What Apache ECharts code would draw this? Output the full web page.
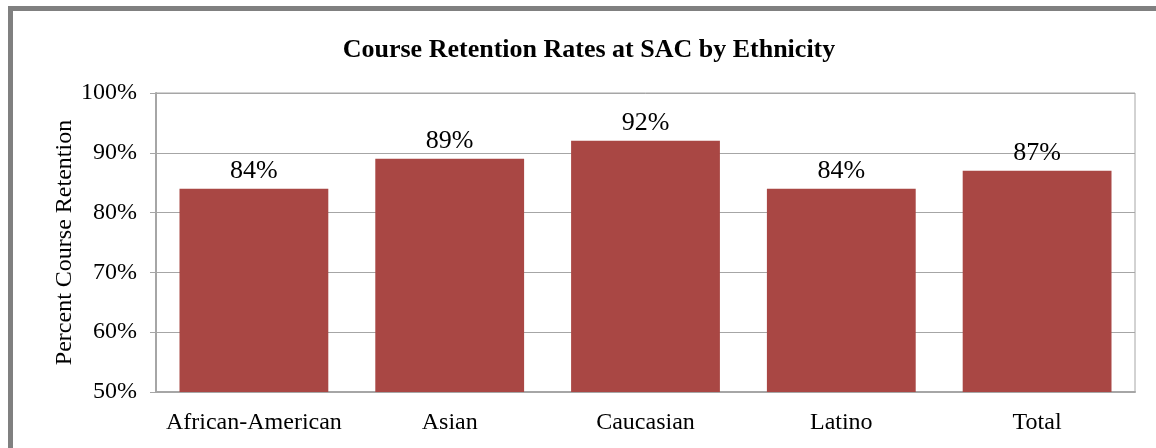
<!DOCTYPE html>
<html>
<head>
<meta charset="utf-8">
<style>
  html, body { margin: 0; padding: 0; background: #fff; }
  #frame { position: absolute; left: 8px; top: 6px; width: 1148px; height: 442px;
           border-left: 5px solid #808080; border-top: 5px solid #808080; box-sizing: border-box; }
  #chart { position: absolute; left: 0; top: 0; width: 1156px; height: 448px; }
</style>
<script src="https://cdn.jsdelivr.net/npm/echarts@6/dist/echarts.min.js"></script>
</head>
<body>
<div id="chart"></div>
<div id="frame"></div>
<script>
// Course retention rates by ethnicity
var categories = ['African-American', 'Asian', 'Caucasian', 'Latino', 'Total'];
var retention = [84, 89, 92, 84, 87];
var yTicks = [50, 60, 70, 80, 90, 100];

var serif = '"Liberation Serif", "Times New Roman", serif';

var chart = echarts.init(document.getElementById('chart'));

var option = {
    animation: false,
    title: {
        text: 'Course Retention Rates at SAC by Ethnicity',
        left: 584,
        top: 32,
        textAlign: 'center',
        textStyle: {
            fontFamily: serif,
            fontSize: 26,
            fontWeight: 'bold',
            color: '#000'
        }
    },
    grid: {
        left: 156,
        right: 21,
        top: 93,
        bottom: 56,
        show: true,
        borderColor: '#a6a6a6',
        borderWidth: 1
    },
    xAxis: {
        type: 'category',
        data: categories,
        axisLine: { lineStyle: { color: '#a6a6a6', width: 2 } },
        axisTick: { show: false },
        axisLabel: {
            interval: 0,
            fontFamily: serif,
            fontSize: 24,
            color: '#000',
            margin: 19
        }
    },
    yAxis: {
        type: 'value',
        min: yTicks[0],
        max: yTicks[yTicks.length - 1],
        interval: 10,
        name: 'Percent Course Retention',
        nameLocation: 'middle',
        nameGap: 79,
        nameMoveOverlap: false,
        nameTextStyle: {
            fontFamily: serif,
            fontSize: 24,
            color: '#000'
        },
        axisLine: { show: true, lineStyle: { color: '#a6a6a6', width: 2 } },
        axisTick: { show: true, length: 6, lineStyle: { color: '#a6a6a6' } },
        splitLine: { lineStyle: { color: '#a6a6a6', width: 1 } },
        axisLabel: {
            fontFamily: serif,
            fontSize: 24,
            color: '#000',
            margin: 19,
            formatter: function (v) { return v + '%'; }
        }
    },
    series: [
        {
            type: 'bar',
            data: retention,
            barCategoryGap: '24%',
            itemStyle: { color: '#A94744' },
            label: {
                show: true,
                position: 'top',
                distance: 5,
                fontFamily: serif,
                fontSize: 26,
                color: '#000',
                formatter: '{c}%'
            }
        }
    ]
};

chart.setOption(option);
</script>
</body>
</html>
